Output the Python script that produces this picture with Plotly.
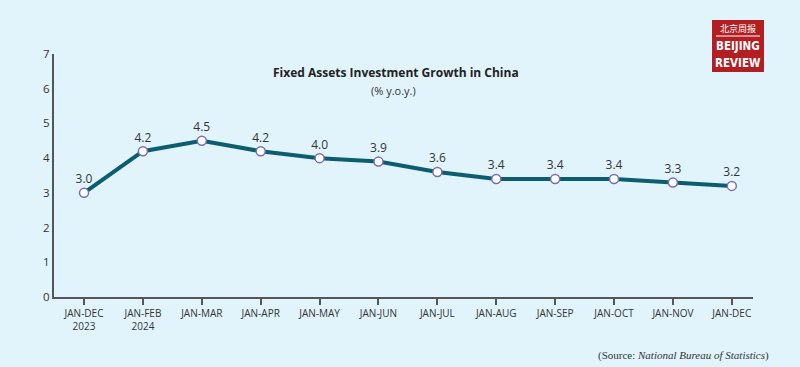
import plotly.graph_objects as go

categories = ["JAN-DEC<br>2023", "JAN-FEB<br>2024", "JAN-MAR", "JAN-APR", "JAN-MAY", "JAN-JUN",
              "JAN-JUL", "JAN-AUG", "JAN-SEP", "JAN-OCT", "JAN-NOV", "JAN-DEC"]
growth = [3.0, 4.2, 4.5, 4.2, 4.0, 3.9, 3.6, 3.4, 3.4, 3.4, 3.3, 3.2]
y_ticks = [0, 1, 2, 3, 4, 5, 6, 7]

BG = "#E1F3FB"
LINE = "#0C5D6F"
TXT = "#333333"

W, H = 800, 367
L, R, T, B = 54, 47, 54, 70
pw, ph = W - L - R, H - T - B

def px(x):
    return (x - L) / pw

def py(y):
    return (H - B - y) / ph

xs = list(range(len(categories)))

fig = go.Figure()
fig.add_trace(go.Scatter(
    x=xs, y=growth, mode="lines+markers+text",
    text=[f"{v:.1f}" for v in growth], textposition="top center",
    textfont=dict(family="Open Sans", size=12, color=TXT),
    line=dict(color=LINE, width=4),
    marker=dict(size=9, color="white", line=dict(color="#7A6DB5", width=1.5)),
    cliponaxis=False, hoverinfo="skip",
))

fig.update_layout(
    width=W, height=H,
    margin=dict(l=L, r=R, t=T, b=B),
    paper_bgcolor=BG, plot_bgcolor=BG,
    showlegend=False,
    xaxis=dict(range=[-0.51, 11.36], tickvals=xs, ticktext=categories,
               showgrid=False, zeroline=False, showline=True, linecolor="#555", linewidth=2,
               ticks="outside", ticklen=6, tickwidth=1.5, tickcolor="#555",
               tickfont=dict(family="Open Sans", size=10, color=TXT)),
    yaxis=dict(range=[0, 7], tickvals=y_ticks, showgrid=False, zeroline=False,
               showline=True, linecolor="#555", linewidth=2, ticks="",
               tickfont=dict(family="Open Sans", size=11.5, color=TXT)),
)

annotations = [
    dict(text="<b>Fixed Assets Investment Growth in China</b>", x=px(396), y=py(72),
         font=dict(family="Open Sans", size=12, color="#222")),
    dict(text="(% y.o.y.)", x=px(393), y=py(90),
         font=dict(family="Open Sans", size=11, color="#333")),
    dict(text="(Source: <i>National Bureau of Statistics</i>)", x=px(771), y=py(355),
         xanchor="right", font=dict(family="Liberation Serif", size=11, color="#333")),
    dict(text="北京周报", x=px(738), y=py(28),
         font=dict(family="Noto Sans CJK SC", size=9, color="white")),
    dict(text="<b>BEIJING</b>", x=px(738), y=py(46),
         font=dict(family="DejaVu Sans Condensed", size=11.5, color="white")),
    dict(text="<b>REVIEW</b>", x=px(738), y=py(63),
         font=dict(family="DejaVu Sans Condensed", size=11.5, color="white")),
]
for a in annotations:
    a.update(xref="paper", yref="paper", showarrow=False, yanchor="middle")
    a.setdefault("xanchor", "center")
    fig.add_annotation(**a)

fig.add_shape(type="rect", xref="paper", yref="paper",
              x0=px(712), x1=px(764), y0=py(72), y1=py(20),
              fillcolor="#B31E23", line=dict(width=0), layer="below")
fig.add_shape(type="line", xref="paper", yref="paper",
              x0=px(716), x1=px(760), y0=py(36), y1=py(36),
              line=dict(color="white", width=1))

fig.write_html("out.html", config={"displayModeBar": False},
               post_script="document.body.style.margin='0px';document.body.style.padding='0px';")
